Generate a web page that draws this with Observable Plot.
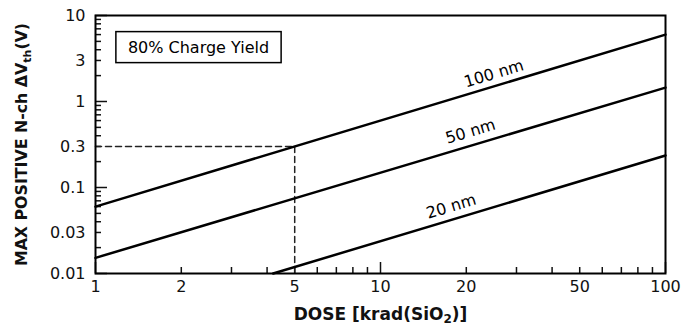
<!DOCTYPE html>
<html><head><meta charset="utf-8">
<script src="https://cdn.jsdelivr.net/npm/d3@7"></script>
<script src="https://cdn.jsdelivr.net/npm/@observablehq/plot@0.6"></script>
<style>body{margin:0;background:#fff}svg{font-family:"DejaVu Sans",Verdana,sans-serif}</style>
</head><body>
<script>
// Series: oxide thickness, dose endpoints (krad(SiO2)), max positive ΔVth (V)
const thicknesses = ["100 nm", "50 nm", "20 nm"];
const doses100 = [1, 100];
const shift100 = [0.06, 6.0];
const doses50 = [1, 100];
const shift50 = [0.0152, 1.45];
const doses20 = [4.2, 100];
const shift20 = [0.01, 0.236];
// Line label positions (dose, ΔVth)
const labelDose = [25, 20.7, 17.7];
const labelShift = [2.1, 0.447, 0.06];
// Reference read-off: 5 krad -> 0.3 V
const refDose = 5, refShift = 0.3;
const xTicks = [1, 2, 5, 10, 20, 50, 100];
const yTicks = [0.01, 0.03, 0.1, 0.3, 1, 3, 10];
const note = "80% Charge Yield";

const W = 695, H = 326, mL = 95, mR = 30, mT = 15, mB = 53;
const ph = H - mT - mB, pw = W - mL - mR;
const series = [[doses100, shift100], [doses50, shift50], [doses20, shift20]]
  .flatMap(([d, s], i) => d.map((x, j) => ({x, y: s[j], t: thicknesses[i]})));
const labels = thicknesses.map((t, i) => ({t, x: labelDose[i], y: labelShift[i]}));
const xMinor = [], yMinor = [];
for (let e = 0; e < 2; e++) for (let m = 2; m <= 9; m++) xMinor.push(m * 10 ** e);
for (let e = -2; e < 1; e++) for (let m = 2; m <= 9; m++) yMinor.push(+(m * 10 ** e).toPrecision(3));
const xMajor = [1, 10, 100], yMajor = [0.01, 0.1, 1, 10];
const angle = -Math.atan((ph / 3) / (pw / 2)) * 180 / Math.PI;

const xLabel = "DOSE [krad(SiO2)]";
const yLabel = "MAX POSITIVE N-ch \u0394Vth(V)";

const chart = Plot.plot({
  width: W, height: H,
  marginLeft: mL, marginRight: mR, marginTop: mT, marginBottom: mB,
  style: {fontFamily: "DejaVu Sans, Verdana, sans-serif", fontSize: "16px", color: "#111"},
  x: {type: "log", domain: [1, 100]},
  y: {type: "log", domain: [0.01, 10]},
  marks: [
    Plot.axisX({ticks: xTicks, tickFormat: d => String(d), tickSize: 0, tickPadding: 7, fontSize: 16,
      label: xLabel, labelAnchor: "center", labelArrow: "none", labelOffset: 46}),
    Plot.axisY({ticks: yTicks, tickFormat: d => String(d), tickSize: 0, tickPadding: 10, fontSize: 16,
      label: yLabel, labelAnchor: "center", labelArrow: "none", labelOffset: 80}),
    Plot.tickX(xMinor, {x: d => d, insetTop: ph - 6, strokeWidth: 1.5}),
    Plot.tickX(xMajor, {x: d => d, insetTop: ph - 11, strokeWidth: 1.5}),
    Plot.tickY(yMinor, {y: d => d, insetRight: pw - 6, strokeWidth: 1.5}),
    Plot.tickY(yMajor, {y: d => d, insetRight: pw - 12, strokeWidth: 1.5}),
    Plot.line([{x: 1, y: refShift}, {x: refDose, y: refShift}], {x: "x", y: "y", strokeWidth: 1.5, strokeDasharray: "6,4", stroke: "#222"}),
    Plot.line([{x: refDose, y: refShift}, {x: refDose, y: 0.01}], {x: "x", y: "y", strokeWidth: 1.5, strokeDasharray: "6,4", stroke: "#222"}),
    Plot.line(series, {x: "x", y: "y", z: "t", stroke: "#000", strokeWidth: 2.5}),
    Plot.text(labels, {x: "x", y: "y", text: "t", rotate: angle, fontSize: 16, fill: "#000"}),
    Plot.text([note], {frameAnchor: "top-left", dx: 103, dy: 32, textAnchor: "middle", lineAnchor: "middle", fontSize: 16, fill: "#000", className: "note"}),
    Plot.frame({stroke: "#000", strokeWidth: 2})
  ]
});
document.body.appendChild(chart);

// axis titles: bold, with subscripts
d3.select(chart).selectAll("text").each(function() {
  const t = this.textContent;
  if (t === xLabel) {
    d3.select(this).attr("font-weight", "bold").attr("font-size", 17).text(null)
      .call(s => { s.append("tspan").text("DOSE [krad(SiO");
        s.append("tspan").attr("dy", 3).attr("font-size", 12).text("2");
        s.append("tspan").attr("dy", -3).text(")]"); });
  } else if (t === yLabel) {
    d3.select(this).attr("font-weight", "bold").attr("font-size", 15.8).text(null)
      .call(s => { s.append("tspan").text("MAX POSITIVE N-ch \u0394V");
        s.append("tspan").attr("dy", 4).attr("font-size", 11).text("th");
        s.append("tspan").attr("dy", -4).text("(V)"); });
  }
});
// box around the note
const noteText = chart.querySelector(".note text");
if (noteText) {
  const b = noteText.getBBox();
  const tr = noteText.getAttribute("transform") || "";
  d3.select(noteText.parentNode).insert("rect", "text")
    .attr("transform", tr)
    .attr("x", b.x - 12).attr("y", b.y - 6).attr("width", b.width + 24).attr("height", b.height + 12)
    .attr("fill", "#fff").attr("stroke", "#000").attr("stroke-width", 1.5);
}
</script>
</body></html>
